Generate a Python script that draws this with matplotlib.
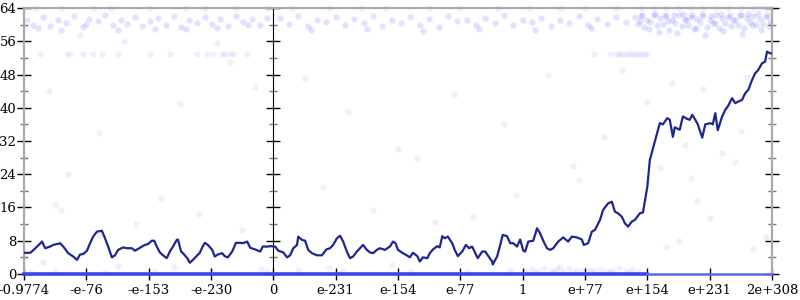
import numpy as np
import matplotlib.pyplot as plt
from matplotlib.ticker import MultipleLocator

# --- DATA ---
tick_labels = ["-0.9774", "-e-76", "-e-153", "-e-230", "0", "e-231", "e-154",
               "e-77", "1", "e+77", "e+154", "e+231", "2e+308"]

line_x = [0.0, 0.10, 0.14, 0.21, 0.29, 0.34, 0.42, 0.47, 0.58, 0.63, 0.71, 0.79, 0.85, 0.90,
          0.95, 1.01, 1.06, 1.11, 1.17, 1.25, 1.30, 1.35, 1.41, 1.46, 1.51, 1.59, 1.65, 1.73,
          1.78, 1.86, 1.94, 1.99, 2.05, 2.09, 2.13, 2.18, 2.23, 2.29, 2.34, 2.39, 2.45, 2.47,
          2.52, 2.55, 2.62, 2.66, 2.71, 2.78, 2.82, 2.86, 2.90, 2.95, 3.02, 3.06, 3.11, 3.18,
          3.22, 3.27, 3.34, 3.40, 3.47, 3.51, 3.58, 3.63, 3.71, 3.79, 3.83, 3.91, 3.95, 4.03,
          4.08, 4.16, 4.22, 4.27, 4.32, 4.38, 4.40, 4.46, 4.51, 4.56, 4.62, 4.70, 4.78, 4.85,
          4.91, 4.96, 5.02, 5.07, 5.12, 5.18, 5.23, 5.28, 5.34, 5.39, 5.44, 5.50, 5.55, 5.60,
          5.66, 5.71, 5.79, 5.87, 5.92, 5.96, 6.00, 6.08, 6.14, 6.19, 6.24, 6.31, 6.35, 6.40,
          6.47, 6.51, 6.56, 6.63, 6.67, 6.71, 6.75, 6.80, 6.87, 6.91, 6.96, 7.03, 7.09, 7.14,
          7.19, 7.24, 7.28, 7.35, 7.40, 7.44, 7.51, 7.52, 7.59, 7.64, 7.68, 7.75, 7.80, 7.85,
          7.91, 7.96, 8.01, 8.04, 8.09, 8.17, 8.23, 8.28, 8.33, 8.39, 8.44, 8.49, 8.57, 8.65,
          8.73, 8.79, 8.87, 8.95, 8.98, 9.05, 9.11, 9.16, 9.24, 9.29, 9.37, 9.43, 9.48, 9.53,
          9.59, 9.64, 9.69, 9.75, 9.80, 9.88, 9.93, 10.00, 10.04, 10.09, 10.16, 10.20, 10.25,
          10.32, 10.36, 10.41, 10.44, 10.52, 10.57, 10.64, 10.68, 10.72, 10.77, 10.81, 10.88,
          10.93, 11.01, 11.05, 11.09, 11.13, 11.20, 11.25, 11.29, 11.36, 11.41, 11.46, 11.52,
          11.57, 11.62, 11.68, 11.73, 11.78, 11.84, 11.89, 11.92, 11.97, 12.0]
line_y = [5.1, 5.1, 5.6, 6.6, 7.8, 6.2, 6.6, 7.0, 7.4, 6.6, 5.0, 4.2, 3.4, 4.7,
          4.8, 5.6, 7.4, 9.0, 10.2, 10.4, 8.6, 6.6, 4.0, 4.5, 5.8, 6.4, 6.2, 6.2,
          5.6, 6.3, 7.0, 7.2, 8.0, 8.0, 6.6, 5.2, 4.5, 3.8, 5.4, 6.6, 8.2, 8.3,
          5.4, 5.0, 3.8, 2.7, 3.4, 4.5, 5.1, 6.4, 7.5, 7.0, 5.8, 4.2, 4.7, 5.0,
          4.3, 4.0, 5.4, 7.5, 7.5, 7.4, 7.8, 6.3, 5.9, 5.4, 6.6, 6.6, 6.7, 6.6,
          5.6, 5.2, 4.0, 4.5, 6.2, 7.0, 9.0, 8.2, 8.0, 5.8, 5.0, 4.5, 4.5, 5.9,
          6.2, 7.0, 8.6, 9.2, 7.8, 5.4, 3.8, 4.2, 5.4, 6.2, 7.0, 5.8, 5.2, 5.0,
          5.8, 6.2, 5.8, 6.6, 7.8, 7.4, 5.8, 5.0, 4.5, 4.0, 5.1, 4.3, 3.0, 4.0,
          3.8, 5.0, 5.9, 6.7, 6.4, 9.1, 8.6, 9.0, 7.4, 5.8, 4.3, 5.4, 7.0, 6.2,
          6.6, 5.0, 3.8, 5.4, 5.4, 4.5, 3.0, 2.3, 4.2, 7.0, 9.4, 9.1, 7.4, 7.4,
          6.6, 8.3, 5.6, 5.4, 7.8, 8.0, 11.0, 9.8, 8.0, 6.2, 5.8, 6.2, 7.8, 8.8,
          7.8, 9.0, 8.8, 8.3, 7.0, 7.4, 10.2, 10.6, 13.0, 15.4, 17.0, 17.4, 15.0, 14.6,
          13.8, 12.2, 11.4, 12.6, 13.0, 14.6, 14.8, 21.0, 27.4, 30.2, 34.2, 36.3, 36.0,
          37.5, 37.1, 33.0, 35.3, 34.7, 37.9, 37.3, 37.1, 38.3, 37.1, 36.0, 32.8,
          36.0, 36.3, 36.0, 38.7, 34.6, 37.9, 39.5, 40.3, 42.3, 41.1, 41.5, 41.9,
          43.5, 44.3, 46.7, 48.3, 49.1, 50.7, 51.1, 53.5, 53.1, 53.1]

# faint scatter samples
band_x = [0.05, 0.15, 0.3, 0.42, 0.55, 0.68, 0.8, 0.95, 1.05, 1.18, 1.3, 1.42, 1.55, 1.66,
          1.78, 1.9, 2.02, 2.15, 2.28, 2.4, 2.52, 2.65, 2.78, 2.9, 3.02, 3.15, 3.28, 3.4,
          3.52, 3.65, 3.78, 3.9, 0.22, 0.6, 1.0, 1.5, 2.1, 2.6, 3.1, 3.6,
          4.1, 4.25, 4.4, 4.55, 4.7, 4.85, 5.0, 5.15, 5.3, 5.45, 5.6, 5.75, 5.9, 6.05,
          6.2, 6.35, 6.5, 6.65, 6.8, 6.95, 7.1, 7.25, 7.4, 7.55, 7.7, 7.85, 8.0, 8.15,
          8.3, 8.45, 8.6, 8.75, 8.9, 9.05, 9.2, 9.35, 9.5, 9.65, 4.6, 5.5, 6.4, 7.3, 8.2, 9.1,
          9.8, 9.85, 9.9, 9.95, 10.0, 10.05, 10.1, 10.15, 10.2, 10.25, 10.3, 10.35, 10.4,
          10.45, 10.5, 10.55, 10.6, 10.65, 10.7, 10.75, 10.8, 10.85, 10.9, 10.95, 11.0,
          11.05, 11.1, 11.15, 11.2, 11.25, 11.3, 11.35, 11.4, 11.45, 11.5, 11.55, 11.6,
          11.65, 11.7, 11.75, 11.8, 11.85, 11.9, 11.95, 9.88, 10.02, 10.18, 10.33, 10.48,
          10.62, 10.78, 10.92, 11.08, 11.22, 11.38, 11.52, 11.68, 11.82, 11.97,
          9.92, 10.12, 10.28, 10.42, 10.58, 10.72, 10.88, 11.02, 11.18, 11.32, 11.48,
          11.62, 11.78, 11.92]
band_y = [61.2, 60.0, 61.8, 59.6, 61.0, 60.4, 62.0, 59.5, 61.4, 60.8, 62.2, 59.8, 61.0, 60.2,
          61.8, 59.6, 60.9, 61.6, 60.0, 62.1, 59.4, 61.2, 60.5, 61.9, 60.1, 61.4, 59.7, 62.0,
          60.6, 61.3, 59.9, 61.7, 59.2, 58.8, 60.2, 58.6, 59.0, 58.9, 59.1, 60.0,
          61.5, 60.1, 62.0, 59.6, 61.2, 60.6, 61.9, 59.9, 61.3, 60.4, 62.1, 59.7, 61.0, 60.5,
          61.8, 60.0, 61.4, 59.5, 62.0, 60.8, 61.1, 59.8, 61.7, 60.3, 62.2, 59.9, 61.2, 60.6,
          61.6, 59.6, 61.0, 60.4, 62.0, 59.8, 61.3, 60.2, 61.9, 60.6, 58.6, 59.0, 58.4, 58.9,
          58.7, 59.2,
          61.8, 60.2, 62.1, 59.4, 61.2, 60.6, 62.3, 59.9, 61.5, 60.1, 62.0, 58.8, 61.1,
          60.5, 62.2, 59.6, 61.4, 60.0, 61.9, 58.9, 61.3, 60.7, 62.1, 59.5, 61.0,
          60.3, 62.2, 59.2, 61.6, 60.4, 61.9, 59.7, 61.2, 60.0, 62.3, 59.3, 61.5,
          60.6, 62.0, 59.8, 61.3, 60.2, 61.8, 59.6, 60.9, 59.0, 58.2, 60.8, 57.9,
          61.0, 59.3, 57.6, 60.5, 58.5, 61.1, 57.8, 59.9, 58.6, 60.7,
          62.4, 62.5, 62.2, 62.4, 62.6, 62.3, 62.5, 62.1, 62.6, 62.4, 62.2, 62.5, 62.6, 62.3]

top_x = [0.2, 0.6, 1.1, 1.4, 2.0, 2.6, 2.9, 3.4, 3.9, 4.3, 4.9, 5.4, 5.8, 6.5, 7.0, 7.6,
         8.1, 8.6, 9.0, 9.5, 9.9, 10.1, 10.3, 10.5, 10.7, 10.9, 11.1, 11.3, 11.5, 11.7,
         11.8, 11.9, 12.0]
top_y = [64] * len(top_x)

row53_x = [0.26, 0.69, 0.74, 0.95, 1.11, 1.25, 1.51, 2.02, 2.34, 2.77, 2.93, 3.03, 3.18,
           3.23, 3.31, 3.36, 3.58, 9.15, 9.4, 9.5, 9.55, 9.6, 9.65, 9.7, 9.75, 9.8, 9.85,
           9.9, 9.95, 10.0]
row53_y = [53.0] * len(row53_x)

sparse_x = [0.9, 1.6, 3.1, 3.3, 0.4, 1.2, 2.5, 3.7, 4.5, 5.2, 6.0, 6.9, 7.7, 8.4, 8.8,
            9.6, 10.4, 10.9, 11.3, 11.6, 0.7, 2.2, 4.8, 6.3, 7.2, 8.9, 10.0, 10.6, 11.2,
            11.5, 1.8, 3.5, 5.6, 7.9, 9.3, 10.2, 10.7, 11.4, 0.3, 2.8, 6.6, 9.7, 10.5,
            11.0, 11.7, 0.6, 1.5, 2.4, 4.9, 5.9, 8.6, 10.3, 10.8, 11.9, 3.8, 0.5, 1.2]
sparse_y = [57.5, 56.0, 55.5, 51.0, 44.0, 34.0, 41.0, 45.0, 47.0, 39.0, 30.0, 43.0, 36.0,
            48.0, 26.0, 49.0, 46.0, 44.5, 40.0, 47.5, 24.0, 18.0, 21.0, 28.0, 14.0, 22.5,
            41.5, 31.0, 29.0, 34.5, 12.0, 10.5, 15.5, 19.0, 33.0, 25.5, 23.0, 27.0, 3.0,
            14.5, 12.5, 11.0, 8.0, 13.5, 6.0, 15.5, 2.0, 1.6, 1.5, 2.2, 1.8, 6.5, 17.5,
            9.0, 1.2, 16.5, 9.5]

low_x = [8.05, 8.15, 8.25, 8.35, 8.45, 8.55, 8.65, 8.75, 8.85, 8.95, 9.05, 9.15, 9.25,
         9.35, 9.45, 9.55, 9.65, 9.75, 9.85, 8.2, 8.5, 8.8, 9.1, 9.4, 9.7, 0.1, 0.5, 1.3,
         2.1, 3.0, 3.9, 4.4, 5.1, 6.2, 7.1, 7.8]
low_y = [0.8, 1.2, 0.6, 1.4, 0.9, 1.1, 0.7, 1.5, 1.0, 0.6, 1.3, 0.9, 1.2, 0.5, 1.0, 1.4,
         0.8, 1.1, 0.7, 0.3, 0.4, 0.3, 0.5, 0.4, 0.3, 0.5, 0.8, 0.4, 0.6, 0.7, 0.5,
         0.9, 0.6, 0.8, 0.5, 0.9]

# --- PLOT ---
plt.rcParams['font.family'] = 'DejaVu Serif'
fig = plt.figure(figsize=(8, 3), dpi=100)
ax = fig.add_axes([0.03, 0.0867, 0.935, 0.8866])

pts = dict(s=20, color='#2233ff', alpha=0.07, linewidths=0, clip_on=False, zorder=2)
ax.scatter(band_x, band_y, **pts)
ax.scatter(band_x, band_y, **pts)
ax.scatter(top_x, top_y, **pts)
ax.scatter(row53_x, row53_y, **pts)
ax.scatter(sparse_x, sparse_y, **pts)
ax.scatter(low_x, low_y, **pts)

# dense run of samples sitting on zero
ax.axhline(0, xmax=10 / 12, color='#3a44e8', lw=2.6, zorder=3, clip_on=False)
ax.axhline(0, xmin=10 / 12, color='#5a66ee', lw=1.8, zorder=3, clip_on=False)

ax.plot(line_x, line_y, color='#1f2690', lw=1.6, zorder=4)

ax.set_xlim(0, 12)
ax.set_ylim(0, 64)
ax.set_xticks(range(13))
ax.set_xticklabels(tick_labels)
ax.yaxis.set_major_locator(MultipleLocator(8))
ax.yaxis.set_minor_locator(MultipleLocator(4))

for s in ['left', 'right', 'top']:
    ax.spines[s].set_color('#aaaaaa')
    ax.spines[s].set_linewidth(1.6)
ax.spines['bottom'].set_visible(False)

ax.tick_params(axis='x', direction='inout', length=8, width=1, color='black',
               labelsize=9.5, pad=3.5)
ax.tick_params(axis='y', which='major', direction='inout', length=10, width=1,
               color='black', labelsize=9.5, pad=0.5, right=True)
ax.tick_params(axis='y', which='minor', direction='inout', length=6, width=1,
               color='#777777', right=True)

# middle axis at zero
mid = ax.secondary_yaxis(4 / 12)
mid.spines['right'].set_color('#aaaaaa')
mid.spines['right'].set_linewidth(1.6)
mid.yaxis.set_major_locator(MultipleLocator(8))
mid.yaxis.set_minor_locator(MultipleLocator(4))
mid.tick_params(which='major', direction='inout', length=10, width=1, color='black',
                labelleft=False, labelright=False)
mid.tick_params(which='minor', direction='inout', length=6, width=1, color='#777777')

fig.savefig('out.png', dpi=100)
